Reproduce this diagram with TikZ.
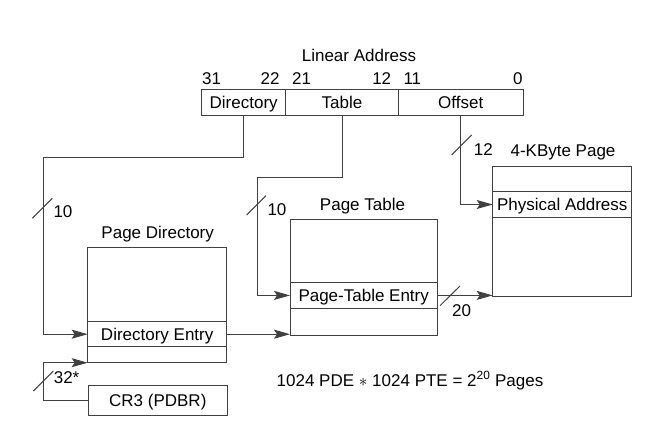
\documentclass[tikz,border=0pt]{standalone}
\usepackage{fontspec}
\setmainfont{Liberation Sans}
\usetikzlibrary{arrows.meta}

\begin{document}
\begin{tikzpicture}[x=1pt,y=-1pt,line width=1pt,
  font=\fontsize{17}{20}\selectfont,
  box/.style={draw=black!75,inner sep=0pt,outer sep=0pt,text height=12pt,text depth=0pt},
  row/.style={box,minimum height=25pt},
  lbl/.style={anchor=base,inner sep=0pt},
  link/.style={draw=black!75,-{Stealth[length=16pt,width=9pt,inset=3pt]}},
  bus/.style={draw=black!75}]
\useasboundingbox (0,0) rectangle (672,422);

%linear address
\node[lbl] (la) at (359,61.7) {Linear Address};
\node[lbl,anchor=base west] (b31) at (201.7,84.3) {31};
\node[lbl,anchor=base east] (b22) at (280,84.3) {22};
\node[lbl,anchor=base west] (b21) at (291.7,84.3) {21};
\node[lbl,anchor=base east] (b12) at (391.7,84.3) {12};
\node[lbl,anchor=base west] (b11) at (403,84.3) {11};
\node[lbl,anchor=base east] (b0) at (523,84.3) {0};

\node[box,minimum width=84pt,minimum height=25.7pt] (fdir) at (243.7,102.2) {Directory};
\node[box,minimum width=112.6pt,minimum height=25.7pt] (ftab) at (342,102.2) {Table};
\node[box,minimum width=124.7pt,minimum height=25.7pt] (foff) at (460.7,102.2) {Offset};

%page directory
\node[lbl] (pdname) at (157.7,239) {Page Directory};
\node[box,minimum width=139pt,minimum height=115.4pt] (pd) at (157.2,305) {};
\node[row,minimum width=139pt] (pde) at (157.2,334.2) {Directory Entry};

\node[box,minimum width=139pt,minimum height=30pt] (cr3) at (157.8,400.7) {CR3 (PDBR)};

%page table
\node[lbl] (ptname) at (362.5,210.5) {Page Table};
\node[box,minimum width=147.3pt,minimum height=116.3pt] (pt) at (363.7,277.2) {};
\node[row,minimum width=147.3pt,minimum height=25.3pt] (pte) at (363.7,295.4) {Page-Table Entry};

%4-KByte page
\node[lbl] (pgname) at (563,157) {4-KByte Page};
\node[box,minimum width=139pt,minimum height=130pt] (pg) at (562.2,231.7) {};
\node[row,minimum width=139pt,minimum height=25.6pt] (par) at (562.2,204.5) {Physical Address};

%connections
\coordinate (dirturn) at (43.3,157.7);
\coordinate (tabturn) at (257.3,177.3);
\coordinate (crturn) at (43.3,362.7);

\draw[link] (fdir.south) |- (dirturn) |- (pde.west);
\draw[link] (ftab.south) |- (tabturn) |- (pte.west);
\draw[link] (foff.south) |- (par.west);
\draw[link] (pde.east) -- (pde.east -| pt.west);
\draw[link] (pte.east) -- (pte.east -| pg.west);
\draw[link] (cr3.west) -| (crturn) -- (pd.south west);

%bus widths
\draw[bus] (32.3,218.3) -- (52.3,198.3);
\node[lbl,anchor=base west] (w10a) at (53,217.3) {10};
\draw[bus] (246.7,215) -- (266,195.7);
\node[lbl,anchor=base west] (w10b) at (267,215.5) {10};
\draw[bus] (451.7,155) -- (471.7,135);
\node[lbl,anchor=base west] (w12) at (473.3,155.5) {12};
\draw[bus] (440,305.7) -- (460,286);
\node[lbl,anchor=base west] (w20) at (451.7,316) {20};
\draw[bus] (33.3,391) -- (53.3,371);
\node[lbl,anchor=base west] (w32) at (53.3,383) {32*};

\node[lbl] (note) at (410,386) {1024 PDE $\ast$ 1024 PTE = 2\textsuperscript{20} Pages};

\end{tikzpicture}
\end{document}
